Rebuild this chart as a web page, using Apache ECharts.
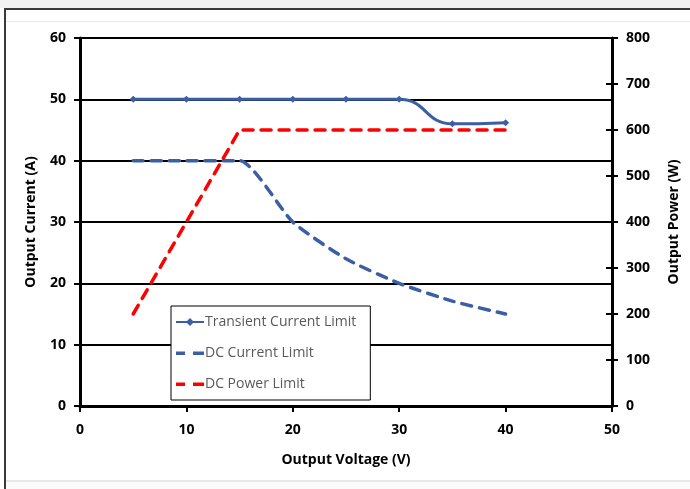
<!DOCTYPE html>
<html>
<head>
<meta charset="utf-8">
<script src="https://cdn.jsdelivr.net/npm/echarts@6/dist/echarts.min.js"></script>
<style>
  html, body { margin: 0; padding: 0; background: #ffffff; }
  #chart { width: 690px; height: 489px; }
</style>
</head>
<body>
<div id="chart"></div>
<script>
// Output voltage points (V)
const voltage = [5, 10, 15, 20, 25, 30, 35, 40];
// Transient current limit (A)
const transientCurrent = [50, 50, 50, 50, 50, 50, 46, 46.2];
// DC current limit (A)
const dcCurrent = [40, 40, 40, 30, 24, 20, 17.1, 15];
// DC power limit (W), right axis
const dcPower = [200, 400, 600, 600, 600, 600, 600, 600];

const blue = '#3b5ea4';
const red = '#ff0000';
const font = '"Open Sans", "Noto Sans", sans-serif';
// icono de línea discontinua para la leyenda (puntos diminutos arriba/abajo fijan la altura)
const dashIcon = 'path://M14,0 h0.01 v0.01 h-0.01 z M0,3.5 h9 v3.5 h-9 z M17,3.5 h11 v3.5 h-11 z M14,10 h0.01 v-0.01 h-0.01 z';

function pairs(ys) {
    return voltage.map((x, i) => [x, ys[i]]);
}

const chart = echarts.init(document.getElementById('chart'));

const option = {
    animation: false,
    backgroundColor: '#ffffff',
    textStyle: { fontFamily: font },
    // marco de la ventana
    graphic: [
        { type: 'rect', shape: { x: 0, y: 0, width: 690, height: 8 }, style: { fill: '#f2f2f2' }, silent: true },
        { type: 'rect', shape: { x: 4, y: 8, width: 686, height: 2 }, style: { fill: '#3a3a3a' }, silent: true },
        { type: 'rect', shape: { x: 4, y: 8, width: 2, height: 481 }, style: { fill: '#3a3a3a' }, silent: true },
        { type: 'rect', shape: { x: 6, y: 21, width: 684, height: 1 }, style: { fill: '#e8e8e8' }, silent: true },
        { type: 'rect', shape: { x: 6, y: 480, width: 684, height: 2 }, style: { fill: '#e8e8e8' }, silent: true },
        { type: 'rect', shape: { x: 6, y: 482, width: 684, height: 7 }, style: { fill: '#fbfbfb' }, silent: true }
    ],
    grid: {
        left: 80,
        right: 78,
        top: 38,
        bottom: 83
    },
    legend: {
        orient: 'vertical',
        left: 171,
        top: 306,
        padding: [9, 14, 9, 4],
        itemGap: 17,
        itemWidth: 28,
        itemHeight: 10,
        backgroundColor: '#ffffff',
        borderColor: '#000000',
        borderWidth: 1,
        textStyle: { color: '#595959', fontSize: 14, fontFamily: font, padding: [0, 0, 0, -4] },
        data: [
            { name: 'Transient Current Limit' },
            { name: 'DC Current Limit', icon: dashIcon },
            { name: 'DC Power Limit', icon: dashIcon }
        ]
    },
    xAxis: {
        type: 'value',
        min: 0,
        max: 50,
        interval: 10,
        name: 'Output Voltage (V)',
        nameLocation: 'middle',
        nameGap: 47,
        nameTextStyle: { fontSize: 14, fontWeight: 'bold', color: '#000', fontFamily: font },
        axisLine: { onZero: false, lineStyle: { color: '#000', width: 3 } },
        axisTick: { show: true, length: 6, lineStyle: { color: '#000', width: 2 } },
        axisLabel: { fontSize: 14, fontWeight: 'bold', color: '#000', margin: 17 },
        splitLine: { show: false }
    },
    yAxis: [
        {
            type: 'value',
            min: 0,
            max: 60,
            interval: 10,
            position: 'left',
            name: 'Output Current (A)',
            nameLocation: 'middle',
            nameGap: 42,
            nameTextStyle: { fontSize: 14, fontWeight: 'bold', color: '#000', fontFamily: font },
            axisLine: { show: true, lineStyle: { color: '#000', width: 3 } },
            axisTick: { show: true, length: 6, lineStyle: { color: '#000', width: 2 } },
            axisLabel: { fontSize: 14, fontWeight: 'bold', color: '#000', margin: 14 },
            splitLine: { show: true, lineStyle: { color: '#000', width: 2 } }
        },
        {
            type: 'value',
            min: 0,
            max: 800,
            interval: 100,
            position: 'right',
            name: 'Output Power (W)',
            nameLocation: 'middle',
            nameGap: 55,
            nameTextStyle: { fontSize: 14, fontWeight: 'bold', color: '#000', fontFamily: font },
            axisLine: { show: true, lineStyle: { color: '#000', width: 3 } },
            axisTick: { show: true, length: 6, lineStyle: { color: '#000', width: 2 } },
            axisLabel: { fontSize: 14, fontWeight: 'bold', color: '#000', margin: 14 },
            splitLine: { show: false }
        },
        {
            // marcas interiores del eje derecho
            type: 'value',
            min: 0,
            max: 800,
            interval: 100,
            position: 'right',
            axisLine: { show: false },
            axisTick: { show: true, inside: true, length: 6, lineStyle: { color: '#000', width: 2 } },
            axisLabel: { show: false },
            splitLine: { show: false }
        }
    ],
    series: [
        {
            name: 'Transient Current Limit',
            type: 'line',
            yAxisIndex: 0,
            data: pairs(transientCurrent),
            smooth: 0.5,
            symbol: 'diamond',
            symbolSize: 7,
            itemStyle: { color: blue },
            lineStyle: { color: blue, width: 3 },
            z: 4
        },
        {
            name: 'DC Current Limit',
            type: 'line',
            yAxisIndex: 0,
            data: pairs(dcCurrent),
            smooth: 0.2,
            symbol: 'none',
            itemStyle: { color: blue },
            lineStyle: { color: blue, width: 3.5, type: [10, 8], cap: 'round' },
            z: 3
        },
        {
            name: 'DC Power Limit',
            type: 'line',
            yAxisIndex: 1,
            data: pairs(dcPower),
            smooth: false,
            symbol: 'none',
            itemStyle: { color: red },
            lineStyle: { color: red, width: 3.5, type: [10, 8], cap: 'round' },
            z: 3
        }
    ]
};

chart.setOption(option);

window.addEventListener('resize', function () {
    chart.resize();
});
</script>
</body>
</html>
